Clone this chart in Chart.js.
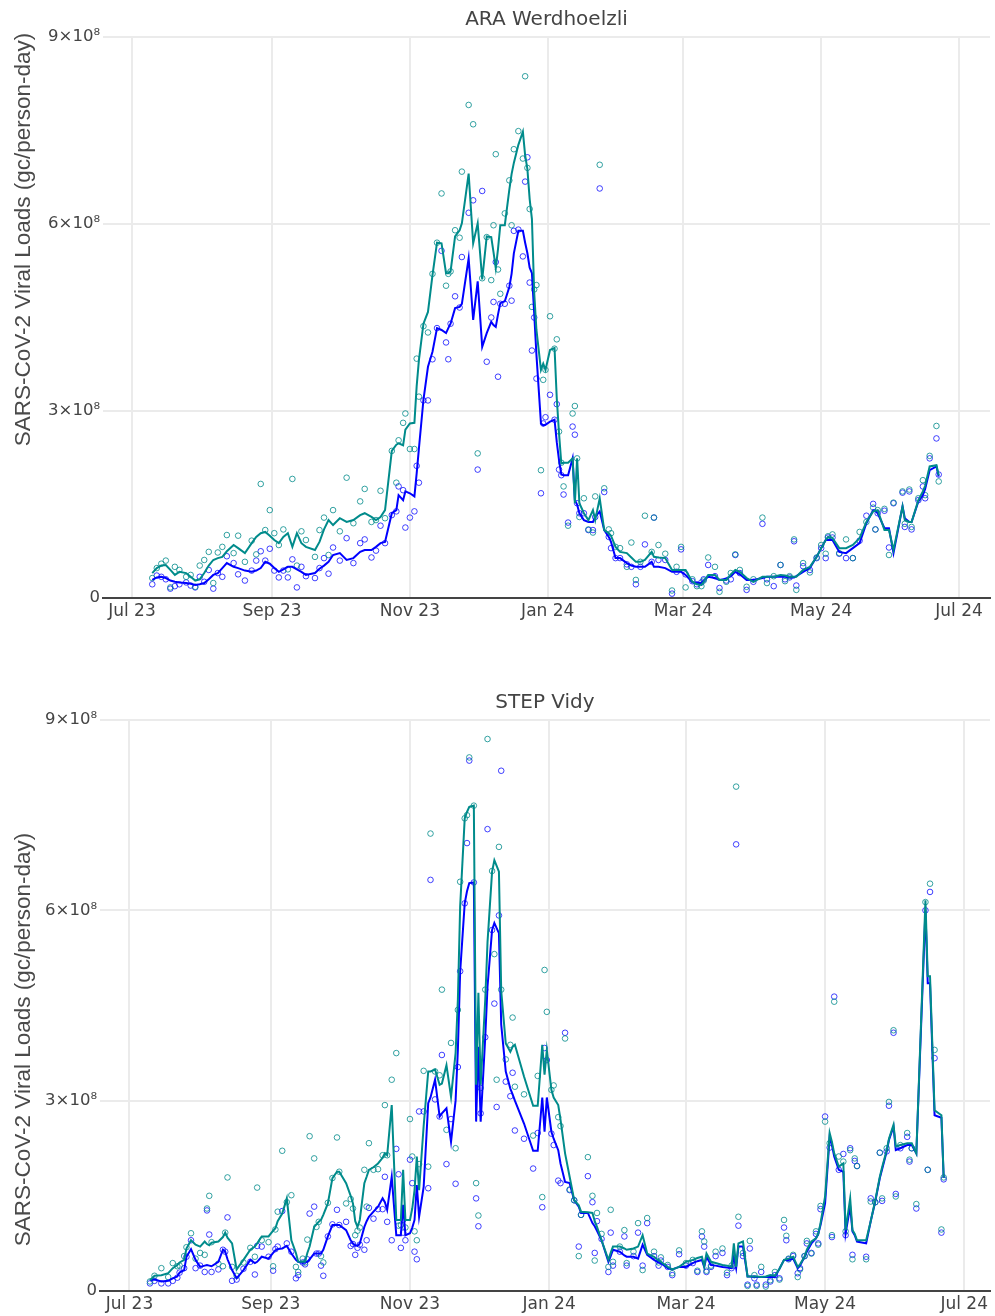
<!DOCTYPE html>
<html>
<head>
<meta charset="utf-8">
<script src="https://cdn.jsdelivr.net/npm/chart.js@4.4.1/dist/chart.umd.min.js"></script>
<style>
  body { margin: 0; background: #fff; }
  #wrap { position: relative; width: 995px; height: 1316px; }
  canvas { position: absolute; left: 0; }
</style>
</head>
<body>
<div id="wrap">
  <canvas id="ara" width="995" height="640" style="top:0"></canvas>
  <canvas id="vidy" width="995" height="633" style="top:683px"></canvas>
</div>
<script>
// x axis: days since 1 Jul 2023, y values in units of 1e8 gc/person-day
const tickDays = [0, 62, 123, 184, 244, 305, 366];
const tickLabels = ["Jul 23", "Sep 23", "Nov 23", "Jan 24", "Mar 24", "May 24", "Jul 24"];
const yTitle = "SARS-CoV-2 Viral Loads (gc/person-day)";

// ARA Werdhoelzli
const araDays = [9,11,13,15,17,19,21,24,26,28,30,32,34,36,38,40,42,45,47,50,53,55,57,59,61,63,65,67,69,71,73,75,77,81,83,85,87,89,92,95,98,101,103,106,108,110,112,115,117,118,120,121,123,125,126,127,129,131,133,135,137,139,140,141,143,145,146,149,151,153,155,157,159,160,161,162,163,165,167,168,169,171,173,174,175,176,177,178,179,181,182,183,185,187,188,189,190,191,193,195,196,197,198,200,202,204,205,207,209,211,212,214,216,219,221,223,225,227,230,231,233,236,239,241,243,245,248,250,252,253,255,258,260,263,265,267,269,272,275,279,281,284,287,289,291,293,294,297,300,303,305,307,308,310,313,316,319,322,325,328,329,330,333,335,337,341,342,344,345,348,350,351,353,356,357];
const araTealLine = [0.40,0.48,0.52,0.53,0.45,0.37,0.42,0.40,0.34,0.28,0.30,0.40,0.52,0.61,0.64,0.66,0.75,0.85,0.80,0.72,0.88,0.98,1.04,1.06,1.00,0.93,0.88,0.98,1.04,0.82,1.04,0.88,0.82,0.77,0.90,1.10,1.25,1.17,1.28,1.22,1.25,1.33,1.36,1.30,1.25,1.30,1.41,2.36,2.46,2.48,2.45,2.70,2.80,2.81,3.40,3.82,4.40,4.59,5.18,5.70,5.69,5.21,5.21,5.24,5.80,5.90,6.01,6.81,5.69,6.01,5.11,5.80,5.79,5.55,5.29,5.60,5.98,5.98,6.55,6.80,6.98,7.27,7.48,7.10,6.88,6.40,6.08,4.90,4.30,3.66,3.76,3.66,3.98,4.01,3.20,2.64,2.16,2.17,2.17,2.24,1.52,2.24,1.52,1.36,1.25,1.41,1.25,1.60,1.09,1.04,1.00,0.82,0.74,0.72,0.65,0.58,0.58,0.61,0.74,0.66,0.65,0.64,0.45,0.45,0.45,0.45,0.26,0.22,0.21,0.26,0.37,0.37,0.29,0.29,0.38,0.45,0.42,0.32,0.26,0.34,0.34,0.34,0.37,0.36,0.34,0.34,0.34,0.45,0.50,0.66,0.80,0.93,0.98,0.96,0.80,0.80,0.85,0.96,1.22,1.39,1.40,1.41,1.09,1.09,0.77,1.47,1.25,1.22,1.22,1.57,1.71,1.80,2.11,2.13,1.97];
const araBlueLine = [0.29,0.33,0.34,0.32,0.28,0.26,0.25,0.24,0.23,0.21,0.22,0.24,0.30,0.37,0.40,0.48,0.56,0.50,0.48,0.44,0.42,0.44,0.48,0.58,0.55,0.48,0.42,0.46,0.50,0.50,0.46,0.42,0.37,0.40,0.47,0.52,0.58,0.69,0.72,0.61,0.64,0.74,0.77,0.77,0.82,0.88,0.90,1.36,1.41,1.65,1.57,1.71,1.68,1.63,2.00,2.40,3.18,3.71,3.95,4.33,4.30,4.25,4.33,4.40,4.65,4.67,4.72,5.45,4.46,5.08,4.03,4.25,4.43,4.38,4.35,4.55,4.73,4.76,4.99,5.20,5.53,5.89,5.89,5.70,5.53,5.30,5.21,4.57,3.90,2.80,2.77,2.78,2.83,2.86,2.50,2.21,1.98,1.97,1.97,2.24,1.57,1.50,1.36,1.25,1.22,1.22,1.30,1.39,1.09,0.98,0.90,0.64,0.64,0.56,0.52,0.50,0.50,0.50,0.58,0.50,0.50,0.48,0.42,0.42,0.42,0.37,0.25,0.24,0.24,0.28,0.34,0.32,0.29,0.31,0.35,0.42,0.38,0.29,0.29,0.32,0.34,0.34,0.34,0.34,0.33,0.33,0.35,0.42,0.48,0.66,0.80,0.93,0.93,0.93,0.74,0.72,0.80,0.88,1.20,1.41,1.40,1.36,1.12,1.12,0.72,1.47,1.28,1.22,1.22,1.55,1.65,1.75,2.05,2.11,1.95];
const araTealPts = [0.32,0.48,0.55,0.60,0.17,0.50,0.45,0.34,0.37,0.18,0.52,0.61,0.74,0.24,0.73,0.82,1.01,0.72,1.00,0.58,0.92,0.70,1.83,1.09,1.41,1.04,0.85,1.10,0.46,1.91,0.52,1.07,0.93,0.66,1.09,1.29,0.69,1.41,1.07,1.93,1.20,1.55,1.75,1.22,1.25,1.72,1.28,2.36,1.85,2.53,2.81,2.96,2.39,2.39,3.84,3.23,4.36,4.26,5.20,5.70,6.49,5.01,5.20,5.24,5.90,5.78,6.84,7.91,7.60,2.32,5.13,5.79,5.10,5.98,7.12,5.27,4.88,6.17,6.70,5.98,7.20,7.49,7.05,8.37,6.90,6.24,4.67,4.95,5.02,2.05,3.50,3.66,4.52,4.00,4.15,2.67,2.17,1.79,1.16,2.96,3.08,2.24,1.30,1.60,1.10,1.05,1.63,6.95,1.76,1.10,1.04,0.82,0.80,0.50,0.89,0.29,0.58,1.32,0.74,1.29,0.85,0.71,0.12,0.50,0.82,0.17,0.30,0.19,0.19,0.28,0.65,0.50,0.10,0.26,0.40,0.70,0.45,0.18,0.30,1.29,0.24,0.35,0.53,0.27,0.35,0.94,0.13,0.56,0.41,0.65,0.85,0.71,0.99,1.02,0.72,0.94,0.64,1.06,1.22,1.45,1.10,1.41,1.43,0.69,1.53,1.71,1.19,1.74,1.14,1.60,1.89,1.65,2.28,2.76,1.87];
const araBluePts = [0.22,0.36,0.34,0.30,0.15,0.19,0.22,0.25,0.20,0.17,0.34,0.26,0.45,0.15,0.40,0.34,0.67,0.56,0.38,0.28,0.44,0.60,0.75,0.60,0.79,0.44,0.33,0.44,0.33,0.62,0.17,0.50,0.35,0.32,0.48,0.64,0.39,0.81,0.60,0.96,0.56,0.88,0.94,0.65,0.76,1.16,0.88,1.33,1.39,1.79,1.73,1.13,1.29,1.39,2.12,1.85,3.17,3.17,3.83,4.33,5.57,4.10,3.83,4.40,4.84,4.66,5.47,6.18,6.38,2.06,6.53,3.79,4.50,4.75,5.39,3.55,4.72,4.72,5.01,4.77,5.89,5.91,5.48,6.68,7.07,5.06,3.97,4.50,3.52,1.68,2.80,2.90,3.26,2.86,3.11,2.06,1.97,1.66,1.21,2.75,2.62,1.52,1.36,1.36,1.09,1.09,1.30,6.57,1.70,0.98,0.80,0.64,0.64,0.54,0.50,0.22,0.50,0.86,0.58,1.29,0.61,0.61,0.07,0.42,0.78,0.38,0.27,0.22,0.25,0.30,0.53,0.35,0.16,0.28,0.30,0.69,0.40,0.13,0.26,1.19,0.30,0.19,0.53,0.30,0.33,0.91,0.20,0.51,0.45,0.64,0.80,0.64,0.97,0.97,0.71,0.64,0.64,0.92,1.32,1.51,1.10,1.36,1.40,0.81,1.52,1.69,1.14,1.71,1.10,1.57,1.79,1.60,2.24,2.56,1.98];

// STEP Vidy
const vidyDays = [9,11,14,17,19,21,22,24,25,27,29,31,33,34,35,36,39,41,42,43,45,47,50,53,55,56,58,61,63,64,65,67,69,71,73,74,76,77,78,79,81,82,83,84,85,87,89,91,92,95,97,98,99,100,101,103,104,105,107,109,111,112,113,115,117,118,119,120,121,123,124,125,126,127,129,131,132,134,136,137,139,141,143,144,145,147,148,149,151,152,153,154,156,157,159,160,161,162,163,165,167,168,169,173,177,179,181,182,183,185,186,188,189,191,193,195,197,198,201,203,204,205,207,210,211,212,215,217,218,221,223,225,227,230,232,233,236,238,241,244,247,249,251,252,253,255,257,260,262,264,265,266,267,269,271,272,274,275,277,279,281,283,285,287,288,289,291,293,294,296,297,299,301,302,303,305,307,308,309,311,313,314,316,317,318,319,323,325,327,329,330,332,333,335,336,338,341,342,343,345,349,350,351,353,356,357];
const vidyTealLine = [0.17,0.24,0.25,0.28,0.36,0.41,0.45,0.49,0.67,0.80,0.73,0.70,0.78,0.74,0.72,0.76,0.78,0.85,0.92,0.84,0.75,0.34,0.49,0.65,0.70,0.75,0.86,0.86,0.95,0.99,1.10,1.22,1.46,0.80,0.60,0.46,0.46,0.46,0.60,0.70,1.01,1.05,1.09,1.12,1.20,1.38,1.78,1.88,1.88,1.70,1.50,1.38,1.10,1.01,1.12,1.70,1.80,1.91,1.95,2.01,2.10,2.17,2.14,2.93,1.12,1.12,1.12,1.91,1.12,1.12,1.30,1.59,2.12,1.59,2.60,3.46,3.46,3.49,3.25,3.27,3.56,3.06,3.75,4.59,6.06,7.45,7.55,7.63,7.65,3.25,4.70,3.25,4.59,5.50,6.61,6.79,6.70,6.61,4.73,3.90,3.77,3.85,3.88,3.38,2.92,2.92,3.88,3.41,3.80,3.17,3.05,2.93,2.70,2.17,1.80,1.43,1.35,1.25,1.24,1.23,1.10,1.01,0.80,0.49,0.60,0.70,0.70,0.67,0.65,0.67,0.70,0.88,0.59,0.54,0.48,0.46,0.38,0.34,0.38,0.46,0.49,0.52,0.54,0.39,0.59,0.46,0.44,0.41,0.40,0.38,0.75,0.38,0.75,0.78,0.23,0.23,0.23,0.23,0.22,0.23,0.25,0.24,0.35,0.49,0.50,0.51,0.54,0.38,0.42,0.54,0.65,0.78,0.83,0.90,1.07,1.49,2.49,2.35,2.17,1.96,2.01,0.96,1.46,0.96,0.90,0.80,0.80,1.10,1.43,1.80,1.95,2.22,2.40,2.62,2.28,2.30,2.33,2.33,2.33,2.17,6.16,4.96,4.96,2.85,2.77,1.78];
const vidyBlueLine = [0.17,0.18,0.15,0.16,0.20,0.23,0.29,0.33,0.54,0.66,0.49,0.38,0.40,0.41,0.40,0.39,0.46,0.65,0.62,0.50,0.33,0.20,0.33,0.49,0.44,0.46,0.54,0.51,0.60,0.64,0.66,0.67,0.71,0.59,0.49,0.46,0.44,0.45,0.46,0.50,0.59,0.59,0.59,0.59,0.65,0.86,1.04,1.04,1.04,0.96,0.80,0.75,0.72,0.71,0.75,1.01,1.10,1.17,1.25,1.33,1.46,1.40,1.28,1.80,0.88,0.88,0.88,1.36,0.88,0.91,1.00,1.12,1.67,1.17,1.64,2.96,3.05,3.33,2.75,2.80,2.88,2.35,3.00,3.80,5.03,6.11,6.30,6.43,6.44,2.67,3.85,2.67,4.00,4.80,5.69,5.80,5.72,5.64,4.20,3.46,3.19,3.10,3.00,2.64,2.21,2.21,3.05,2.51,3.05,2.51,2.40,2.22,2.01,1.72,1.70,1.43,1.33,1.23,1.23,1.07,1.02,0.95,0.80,0.46,0.55,0.65,0.62,0.56,0.54,0.54,0.51,0.73,0.57,0.49,0.45,0.44,0.36,0.34,0.38,0.38,0.44,0.47,0.49,0.38,0.54,0.41,0.40,0.38,0.37,0.36,0.54,0.36,0.70,0.70,0.23,0.23,0.22,0.22,0.22,0.22,0.22,0.22,0.35,0.49,0.49,0.49,0.51,0.36,0.40,0.54,0.62,0.75,0.83,0.90,1.04,1.38,2.43,2.30,2.12,1.91,1.88,0.91,1.33,0.94,0.88,0.78,0.75,1.10,1.41,1.78,1.92,2.20,2.38,2.59,2.22,2.25,2.30,2.30,2.30,2.17,6.01,4.85,4.85,2.77,2.73,1.78];
const vidyTealPts = [0.15,0.24,0.36,0.22,0.44,0.39,0.40,0.55,0.69,0.91,0.51,0.60,0.57,1.30,1.50,0.77,0.43,0.39,0.92,1.79,0.38,0.24,0.45,0.68,0.54,1.63,0.80,0.77,0.39,0.97,1.25,2.21,1.40,1.51,0.38,0.30,0.51,0.45,0.81,2.44,2.09,1.01,1.09,0.55,0.45,1.39,1.78,2.42,1.88,1.38,1.45,1.30,0.88,0.95,1.00,1.91,1.33,2.33,1.91,1.92,2.14,2.93,2.14,3.33,3.75,1.03,1.04,1.12,1.00,2.71,2.12,0.94,0.80,2.00,3.47,1.96,7.21,3.46,3.40,4.75,2.54,3.91,2.25,4.43,6.45,7.45,7.50,8.41,7.65,1.70,1.19,3.20,4.75,8.70,6.62,5.31,3.33,7.00,4.75,3.65,3.88,4.31,3.22,3.10,2.45,3.39,1.48,5.06,4.40,3.17,3.24,2.74,2.60,3.98,1.60,1.43,0.55,1.20,2.11,1.50,0.48,1.23,0.90,0.38,1.28,0.46,0.70,0.96,0.44,0.62,1.07,0.33,1.15,0.62,0.45,0.53,0.41,0.28,0.64,0.44,0.49,0.32,0.94,0.78,0.32,0.40,0.62,0.67,0.29,0.40,0.45,7.95,1.17,0.60,0.08,0.79,0.25,0.08,0.38,0.07,0.17,0.30,0.18,1.12,0.87,0.51,0.57,0.22,0.34,0.55,0.79,0.59,0.94,0.73,1.34,2.67,2.33,0.88,4.56,2.12,2.04,0.94,2.22,0.50,2.09,1.97,0.50,1.41,1.40,2.18,1.46,2.25,2.98,4.11,1.49,2.30,2.49,2.07,2.25,1.37,6.13,1.91,6.42,3.80,0.97,1.79];
const vidyBluePts = [0.12,0.16,0.12,0.12,0.16,0.21,0.29,0.36,0.54,0.80,0.36,0.40,0.30,1.27,0.89,0.30,0.34,0.65,0.62,1.16,0.16,0.18,0.35,0.46,0.26,0.71,0.70,0.54,0.32,0.66,0.70,1.26,0.75,0.62,0.20,0.25,0.45,0.42,0.50,1.22,1.33,0.59,0.59,0.40,0.24,0.86,1.05,1.28,1.04,1.09,0.71,0.74,0.57,0.68,0.73,0.65,0.80,1.31,1.14,1.29,1.29,1.80,1.09,0.80,2.24,1.84,0.68,0.92,0.80,2.07,1.70,0.62,0.50,2.83,2.83,1.62,6.48,3.02,2.75,3.72,2.00,2.71,1.69,3.53,5.04,6.11,7.06,8.36,6.44,1.46,1.02,2.80,4.00,7.28,5.69,4.53,2.90,5.92,8.20,3.30,3.07,3.44,2.53,2.40,1.93,2.49,1.32,3.83,3.64,2.48,2.30,1.74,1.70,4.07,1.59,1.43,0.70,1.20,1.81,1.40,0.60,1.10,0.82,0.30,0.92,0.40,0.62,0.86,0.40,0.55,0.92,0.40,1.07,0.55,0.40,0.48,0.38,0.25,0.58,0.40,0.44,0.30,0.86,0.70,0.30,0.38,0.55,0.60,0.25,0.36,0.40,7.04,1.03,0.55,0.10,0.67,0.20,0.10,0.30,0.10,0.15,0.25,0.20,1.00,0.80,0.50,0.55,0.28,0.36,0.55,0.75,0.60,0.90,0.75,1.29,2.75,2.26,0.85,4.64,1.91,2.16,0.88,2.25,0.57,2.05,1.97,0.54,1.46,1.40,2.18,1.42,2.20,2.92,4.07,1.53,2.25,2.43,2.04,2.25,1.30,6.00,1.91,6.29,3.67,0.92,1.76];

const FONT = '"DejaVu Sans", Verdana, sans-serif';
const TEAL = "#008b8b";
const BLUE = "#0000ff";

// rotated y-axis title, placed like the reference instead of centred on the axis
const yTitlePlugin = {
  id: "yTitle",
  afterDraw(chart, args, opts) {
    const ctx = chart.ctx;
    ctx.save();
    ctx.translate(opts.x, opts.y);
    ctx.rotate(-Math.PI / 2);
    ctx.font = '22.5px "Liberation Sans", Arial, sans-serif';
    ctx.fillStyle = "#4a4a4a";
    ctx.textAlign = "center";
    ctx.textBaseline = "middle";
    ctx.fillText(yTitle, 0, 0);
    ctx.restore();
  }
};

function pts(days, vals) {
  return days.map((d, i) => ({ x: d, y: vals[i] }));
}

function drawPlant(id, title, days, tealLine, blueLine, tealPts, bluePts, xMin, xMax, yWidth, xHeight, padRight, titleY) {
  new Chart(document.getElementById(id), {
    type: "scatter",
    data: {
      datasets: [
        { data: pts(days, tealLine), showLine: true, borderColor: TEAL, borderWidth: 2, pointRadius: 0 },
        { data: pts(days, blueLine), showLine: true, borderColor: BLUE, borderWidth: 2, pointRadius: 0 },
        { data: pts(days, tealPts), showLine: false, pointRadius: 2.8, pointBorderWidth: 1,
          pointBorderColor: "rgba(0,139,139,0.8)", pointBackgroundColor: "rgba(0,0,0,0)" },
        { data: pts(days, bluePts), showLine: false, pointRadius: 2.8, pointBorderWidth: 1,
          pointBorderColor: "rgba(0,0,255,0.75)", pointBackgroundColor: "rgba(0,0,0,0)" }
      ]
    },
    plugins: [yTitlePlugin],
    options: {
      responsive: false,
      animation: false,
      layout: { padding: { left: 0, right: padRight, top: 0, bottom: 0 } },
      plugins: {
        legend: { display: false },
        tooltip: { enabled: false },
        title: {
          display: true, text: title, fullSize: false, color: "#444",
          font: { family: FONT, size: 20, weight: "normal" },
          padding: { top: 8, bottom: 5 }
        },
        yTitle: { x: 24, y: titleY }
      },
      scales: {
        x: {
          type: "linear", min: xMin, max: xMax,
          afterFit: s => { s.height = xHeight; },
          afterBuildTicks: s => { s.ticks = tickDays.map(v => ({ value: v })); },
          ticks: {
            autoSkip: false, maxRotation: 0, padding: 3, color: "#444",
            font: { family: FONT, size: 17 },
            callback: v => tickLabels[tickDays.indexOf(v)]
          },
          grid: { color: "#ebebeb", lineWidth: 2, drawTicks: false },
          border: { display: true, color: "#444", width: 2 }
        },
        y: {
          min: 0, max: 9,
          afterFit: s => { s.width = yWidth; },
          ticks: {
            stepSize: 3, padding: 3, color: "#444",
            font: { family: FONT, size: 16.5 },
            callback: v => (v === 0 ? "0" : v + "×10⁸")
          },
          grid: { color: "#ebebeb", lineWidth: 2, drawTicks: false },
          border: { display: false }
        }
      }
    }
  });
}

drawPlant("ara", "ARA Werdhoelzli", araDays, araTealLine, araBlueLine, araTealPts, araBluePts,
  -12.8, 379.7, 103, 42, 4, 239.5);
drawPlant("vidy", "STEP Vidy", vidyDays, vidyTealLine, vidyBlueLine, vidyTealPts, vidyBluePts,
  -12.9, 377.3, 100, 25, 0, 356.5);
</script>
</body>
</html>
